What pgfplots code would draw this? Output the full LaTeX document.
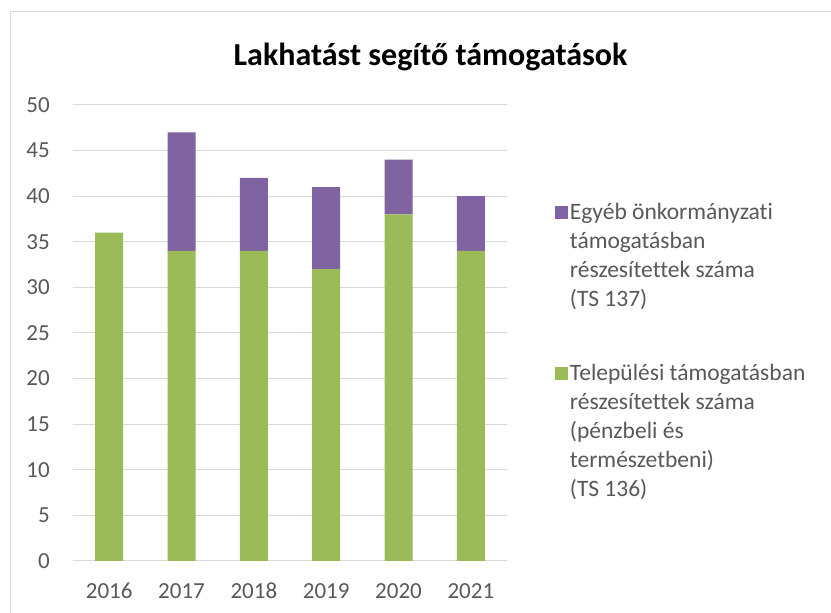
\documentclass[border=0pt]{standalone}
\usepackage{fontspec}
\setmainfont{Carlito}[Ligatures=NoCommon]
\usepackage{pgfplots}
\pgfplotsset{compat=1.18}
\definecolor{tsgreen}{HTML}{9BBB59}
\definecolor{tspurple}{HTML}{8064A2}
\definecolor{txtgray}{HTML}{595959}
\definecolor{gridgray}{HTML}{D9D9D9}
\begin{document}
\begin{tikzpicture}[x=1pt,y=1pt]
\path[use as bounding box] (0,0) rectangle (831,613);
\fill[white] (0,0) rectangle (831,613);
\draw[gridgray, line width=1pt] (10,0) -- (10,601) -- (831,601);
\node[font=\fontsize{32}{36}\selectfont\bfseries] at (430.5,556) {Lakhatást segítő támogatások};
\begin{axis}[
  at={(73pt,52pt)}, anchor=south west,
  scale only axis, width=434pt, height=456pt,
  ybar stacked, bar width=28pt,
  xmin=-0.5, xmax=5.5, ymin=0, ymax=50,
  xtick=data, xticklabels={2016,2017,2018,2019,2020,2021},
  ytick={0,5,...,50},
  ymajorgrids, grid style={gridgray, line width=1pt},
  axis line style={draw=none}, major tick length=0pt,
  tick label style={font=\fontsize{23}{27}\selectfont, text=txtgray},
  /pgf/number format/assume math mode=true,
  yticklabel style={anchor=east, inner sep=0pt, xshift=-23pt},
  xticklabel style={anchor=base, inner sep=0pt, yshift=-38pt},
  legend style={at={(1.11,0.79)}, anchor=north west, draw=none, fill=none,
    inner sep=0pt, font=\fontsize{23.5}{29}\selectfont, text=txtgray,
    cells={align=left, anchor=base west}, row sep=52pt,
    /tikz/every even column/.append style={column sep=6pt}},
  reverse legend,
]
\addplot[fill=tsgreen, draw=none,
  legend image code/.code={\fill[tsgreen] (0pt,116pt) rectangle (13pt,129pt);}]
  coordinates {(0,36) (1,34) (2,34) (3,32) (4,38) (5,34)};
\addlegendentry{Települési támogatásban\\részesítettek száma\\(pénzbeli és\\természetbeni)\\(TS 136)}
\addplot[fill=tspurple, draw=none,
  legend image code/.code={\fill[tspurple] (0pt,87pt) rectangle (13pt,100pt);}]
  coordinates {(0,0) (1,13) (2,8) (3,9) (4,6) (5,6)};
\addlegendentry{Egyéb önkormányzati\\támogatásban\\részesítettek száma\\(TS 137)}
\end{axis}
\end{tikzpicture}
\end{document}
